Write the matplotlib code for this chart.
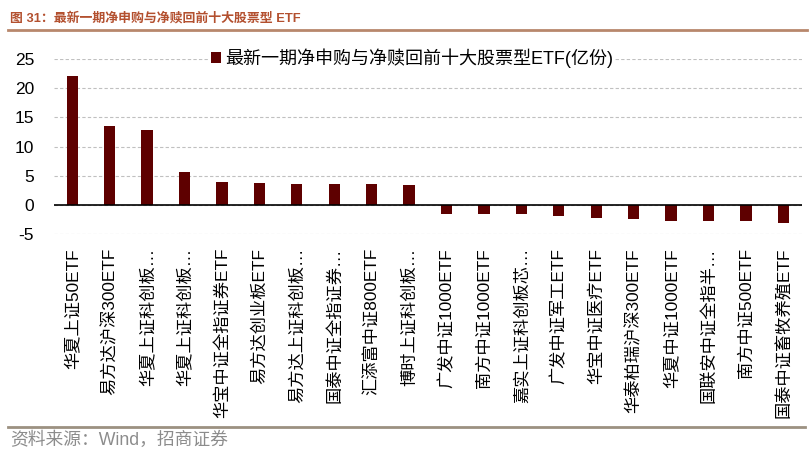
import matplotlib.pyplot as plt
from matplotlib.lines import Line2D

plt.rcParams['font.family'] = ['Liberation Sans', 'Noto Sans CJK SC', 'DejaVu Sans']

# data (亿份)
funds = ['华夏上证50ETF', '易方达沪深300ETF', '华夏上证科创板…', '华夏上证科创板…',
         '华宝中证全指证券ETF', '易方达创业板ETF', '易方达上证科创板…', '国泰中证全指证券…',
         '汇添富中证800ETF', '博时上证科创板…', '广发中证1000ETF', '南方中证1000ETF',
         '嘉实上证科创板芯…', '广发中证军工ETF', '华宝中证医疗ETF', '华泰柏瑞沪深300ETF',
         '华夏中证1000ETF', '国联安中证全指半…', '南方中证500ETF', '国泰中证畜牧养殖ETF']
net_flow = [22.1, 13.6, 12.8, 5.65, 4.0, 3.7, 3.65, 3.5, 3.5, 3.35,
            -1.6, -1.6, -1.65, -1.9, -2.2, -2.35, -2.75, -2.8, -2.8, -3.2]
yticks = [-5, 0, 5, 10, 15, 20, 25]

bar_color = '#5e0000'

fig = plt.figure(figsize=(8.11, 4.54), dpi=100)
ax = fig.add_axes([0.066, 0.4846, 0.923, 0.3854])

x = range(len(funds))
ax.bar(x, net_flow, width=0.3, color=bar_color, zorder=3,
       label='最新一期净申购与净赎回前十大股票型ETF(亿份)')
ax.axhline(0, color='black', lw=1.2, zorder=4)

ax.set_xlim(-0.5, len(funds) - 0.5)
ax.set_ylim(-5, 25)
ax.set_yticks(yticks)
ax.set_yticklabels([str(v) for v in yticks], fontsize=12.5)
ax.yaxis.grid(True, color='#c0c0c0', ls=(0, (3, 2)), lw=0.8, zorder=0)

ax.set_xticks(list(x))
ax.set_xticklabels(funds, rotation=90, fontsize=12.4, va='top', ha='center')
ax.tick_params(axis='x', length=0, pad=10)
ax.tick_params(axis='y', length=0, pad=14)
for s in ax.spines.values():
    s.set_visible(False)

ax.legend(loc='center', bbox_to_anchor=(0.508, 0.872), bbox_transform=fig.transFigure,
          frameon=True, facecolor='white', edgecolor='none', framealpha=1,
          fontsize=13, handlelength=0.55, handleheight=0.55, handletextpad=0.2,
          borderpad=0.1)

# header and footer
fig.text(0.012, 0.96, '图 31：最新一期净申购与净赎回前十大股票型 ETF', fontsize=9.3,
         fontweight='bold', color='#b3502f', va='center', ha='left')
fig.add_artist(Line2D([0.01, 0.995], [0.935, 0.935], transform=fig.transFigure,
                      color='#b8876c', lw=2))
fig.add_artist(Line2D([0.01, 0.993], [0.06, 0.06], transform=fig.transFigure,
                      color='#9c9181', lw=2))
fig.text(0.012, 0.03, '资料来源：Wind，招商证券', fontsize=12.8, color='#8c8c8c',
         va='center', ha='left')

fig.savefig('out.png', dpi=100)
